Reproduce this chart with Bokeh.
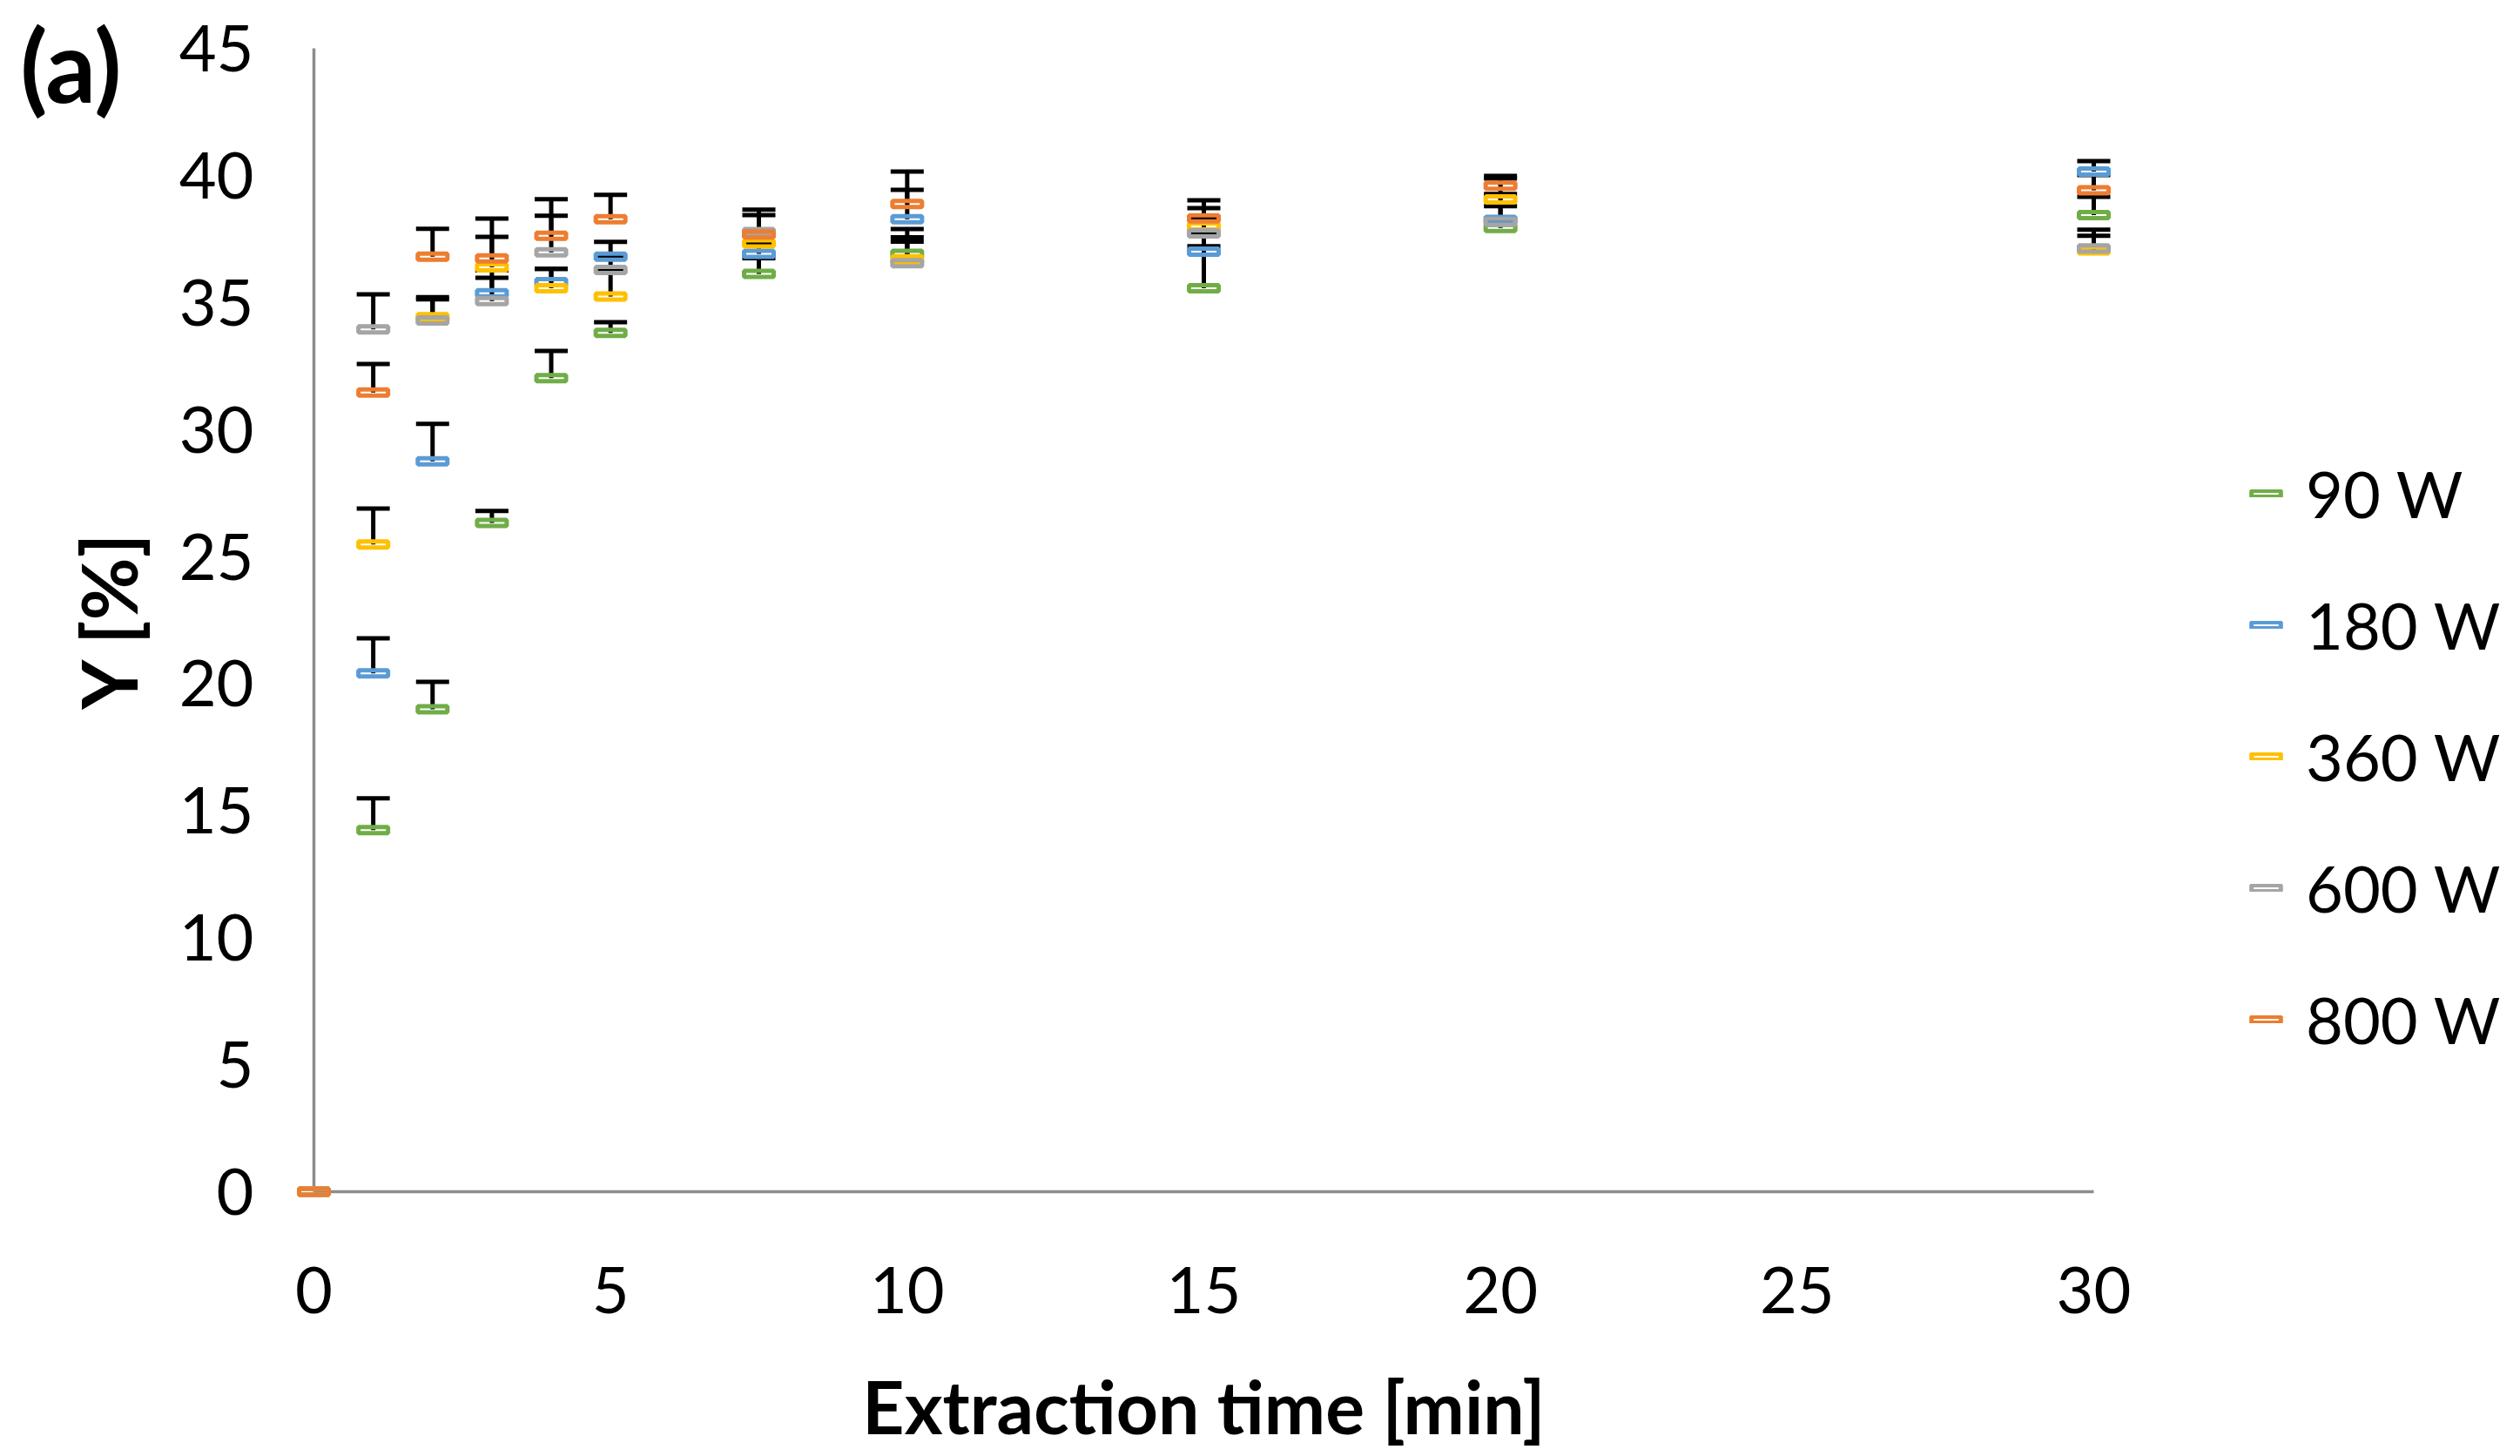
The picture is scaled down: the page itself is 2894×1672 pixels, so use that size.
from bokeh.plotting import figure
from bokeh.models import Range1d, Legend, LegendItem, FixedTicker, LinearAxis
from bokeh.embed import file_html
from bokeh.resources import INLINE

# ---- data ----
time_min = [0, 1, 2, 3, 4, 5, 7.5, 10, 15, 20, 30]
series_names = ["90 W", "180 W", "360 W", "600 W", "800 W"]
series_colors = ["#70AD47", "#5B9BD5", "#FFC000", "#A5A5A5", "#ED7D31"]

y_90 = [0, 14.23, 18.99, 26.32, 32.02, 33.80, 36.12, 36.91, 35.56, 37.93, 38.44]
e_90 = [0, 1.25, 1.08, 0.47, 1.07, 0.42, 0.62, 0.98, 1.65, 0.30, 0.72]
y_180 = [0, 20.40, 28.75, 35.36, 35.80, 36.80, 36.91, 38.27, 37.00, 38.25, 40.15]
e_180 = [0, 1.38, 1.47, 0.61, 0.52, 0.58, 0.40, 1.16, 0.70, 0.54, 0.41]
y_360 = [0, 25.47, 34.42, 36.38, 35.56, 35.23, 37.32, 36.70, 37.99, 39.05, 37.05]
e_360 = [0, 1.42, 0.79, 1.20, 0.76, 1.00, 0.40, 0.86, 0.72, 0.83, 0.57]
y_600 = [0, 33.94, 34.29, 35.05, 36.97, 36.28, 37.77, 36.54, 37.72, 38.17, 37.13]
e_600 = [0, 1.38, 0.83, 1.21, 1.44, 0.55, 0.88, 0.85, 0.60, 1.10, 0.73]
y_800 = [0, 31.45, 36.80, 36.73, 37.62, 38.27, 37.67, 38.87, 38.31, 39.59, 39.41]
e_800 = [0, 1.13, 1.10, 1.57, 1.44, 0.96, 0.77, 1.28, 0.71, 0.39, 0.60]

x_ticks = [0, 5, 10, 15, 20, 25, 30]
y_ticks = [0, 5, 10, 15, 20, 25, 30, 35, 40, 45]
x_title = "Extraction time [min]"
y_title = "Y [%]"
panel_tag = "(a)"

series_y = [y_90, y_180, y_360, y_600, y_800]
series_e = [e_90, e_180, e_360, e_600, e_800]

# ---- layout ----
FONT = "Lato"
XMAX, YMAX = 30, 45
FW0, FH0 = 2044, 1313          # pixel span of 0..30 and 0..45
PADX, PADY = 24, 12            # extra frame room so edge markers are not clipped
xpu = FW0 / XMAX
ypu = FH0 / YMAX

W, H = 2878, 1656
left, top = 336, 43
fw, fh = FW0 + 2 * PADX, FH0 + 2 * PADY

p = figure(width=W, height=H, output_backend="svg", toolbar_location=None,
           x_range=Range1d(-PADX / xpu, XMAX + PADX / xpu),
           y_range=Range1d(-PADY / ypu, YMAX + PADY / ypu),
           frame_width=fw, frame_height=fh)
p.min_border_left = left
p.min_border_top = top
p.min_border_right = W - left - fw
p.min_border_bottom = H - top - fh
p.outline_line_color = None
p.grid.visible = False
p.background_fill_color = "white"
p.border_fill_color = "white"

def plain_axis(ax):
    ax.axis_line_color = None
    ax.major_tick_line_color = None
    ax.minor_tick_line_color = None
    ax.major_tick_out = 0
    ax.major_tick_in = 0
    ax.minor_tick_out = 0
    ax.minor_tick_in = 0
    ax.major_label_text_color = "black"

for ax in (p.xaxis[0], p.yaxis[0]):
    plain_axis(ax)
    ax.major_label_text_font = FONT
    ax.major_label_text_font_size = "74px"
    ax.axis_label_text_font = FONT
    ax.axis_label_text_font_style = "bold"
    ax.axis_label_text_color = "black"

p.xaxis[0].axis_label_text_font_size = "84px"
p.yaxis[0].axis_label_text_font_size = "88px"
p.xaxis[0].ticker = FixedTicker(ticks=x_ticks)
p.yaxis[0].ticker = FixedTicker(ticks=y_ticks)
p.xaxis[0].major_label_standoff = 74
p.yaxis[0].major_label_standoff = 45
p.xaxis[0].axis_label = x_title
p.yaxis[0].axis_label = y_title
p.xaxis[0].axis_label_standoff = 53
p.yaxis[0].axis_label_standoff = 26

# panel tag "(a)": a one-tick outer axis on the left, its label overridden
TAG_Y = 44.375
tag_axis = LinearAxis(ticker=FixedTicker(ticks=[TAG_Y]),
                      major_label_overrides={TAG_Y: panel_tag},
                      major_label_standoff=-72)
plain_axis(tag_axis)
tag_axis.major_label_text_font = FONT
tag_axis.major_label_text_font_style = "bold"
tag_axis.major_label_text_font_size = "114px"
p.add_layout(tag_axis, "left")

# axis lines at x=0 and y=0
p.segment(x0=[0, 0], y0=[0, 0], x1=[0, XMAX], y1=[YMAX, 0],
          line_color="#8C8C8C", line_width=3.5)

# error bars (plus direction only), drawn beneath all markers
for ys, es in zip(series_y, series_e):
    tops = [y + e for y, e in zip(ys, es)]
    xs = [t for t, e in zip(time_min, es) if e > 0]
    y0s = [y for y, e in zip(ys, es) if e > 0]
    y1s = [t for t, e in zip(tops, es) if e > 0]
    p.segment(x0=xs, y0=y0s, x1=xs, y1=y1s, line_color="black", line_width=5)
    p.scatter(x=xs, y=y1s, marker="dash", size=38, line_color="black", line_width=5)

items = []
for name, color, ys in zip(series_names, series_colors, series_y):
    r = p.rect(x=time_min, y=ys, width=34, height=7, width_units="screen",
               height_units="screen", fill_alpha=0, line_color=color, line_width=5)
    items.append(LegendItem(label=name, renderers=[r]))

legend = Legend(items=items, location=(153, 160), orientation="vertical",
                border_line_color=None, background_fill_alpha=0,
                label_text_font=FONT, label_text_font_size="74px",
                label_text_color="black",
                glyph_width=42, glyph_height=9, label_height=100,
                label_standoff=25, spacing=51, padding=0, margin=0)
p.add_layout(legend, "right")

open("out.html", "w").write(file_html(p, INLINE))
